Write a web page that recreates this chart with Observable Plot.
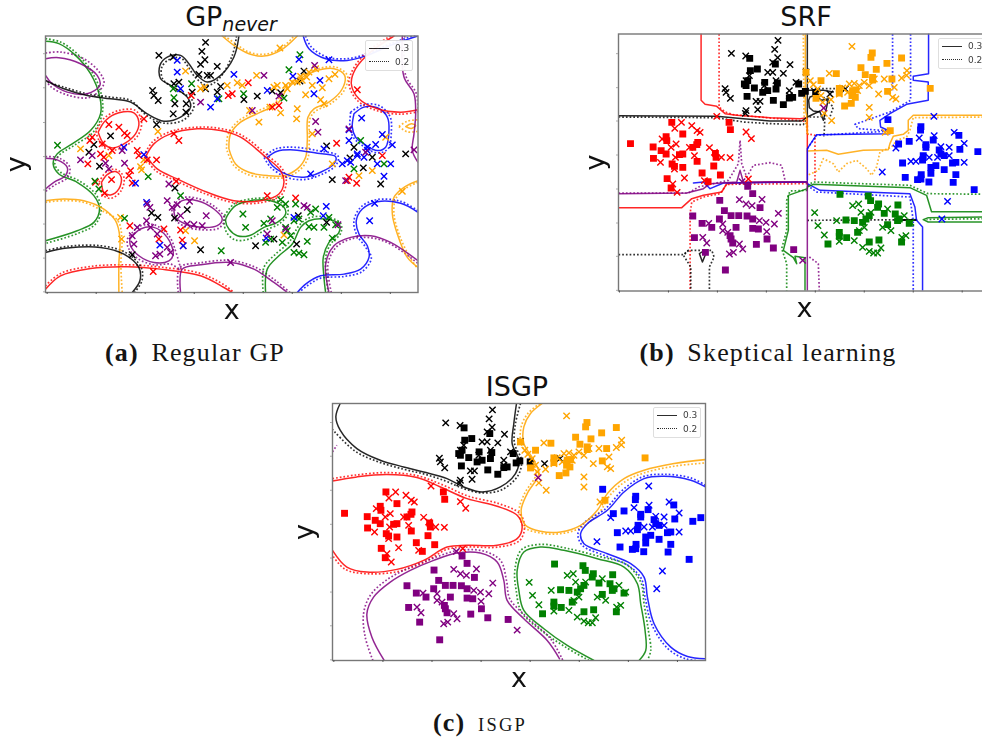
<!DOCTYPE html>
<html><head><meta charset="utf-8">
<script src="https://cdn.jsdelivr.net/npm/d3@7"></script>
<script src="https://cdn.jsdelivr.net/npm/@observablehq/plot@0.6"></script>
<style>
html,body{margin:0;padding:0;background:#fff;overflow:hidden}
#page{position:relative;width:982px;height:740px;overflow:hidden;font-family:"DejaVu Sans",sans-serif;color:#111}
.title{position:absolute;font-size:27px;line-height:32px;transform:translateX(-50%);white-space:nowrap}
.title sub{font-size:19px;font-style:italic;line-height:0;vertical-align:-5px}
.cap{position:absolute;font-family:"Liberation Serif",serif;font-size:26px;line-height:28px;letter-spacing:1.15px;transform:translateX(-50%);white-space:nowrap;color:#151515}
.cap b{margin-right:5px}
.cap .sc{font-size:18.5px;letter-spacing:2.2px}
.legend{position:absolute;width:46px;height:29px;background:#fff;border:1px solid #ddd;border-radius:2px;font-size:9px;color:#333;opacity:.95}
.legend i{position:absolute;left:3px;width:20px;height:0;border-top:1.8px solid #222}
.legend i.d{border-top:1.8px dotted #222}
.legend span{position:absolute;left:29px;line-height:10px}
svg{filter:blur(.3px)}
</style></head><body><div id="page"></div>
<script>
// ---- Shared point cloud (in reference pixels x3) ----
const blackSquares=[[521,173],[598,190],[544,205],[523,210],[505,250],[515,240],[535,262],[513,287],[566,245],[560,275],[575,270],[600,265],[604,247],[592,299],[622,312],[640,292],[650,290],[668,250],[677,278],[688,272],[719,275],[510,255]];
const blackCrosses=[[466,158],[606,119],[596,146],[509,166],[605,171],[590,185],[642,192],[575,215],[590,215],[622,218],[447,264],[450,275],[463,293],[520,225],[510,240],[565,255],[640,270],[660,245],[690,214],[540,302],[552,302],[510,330],[508,338],[545,327],[762,280],[808,265],[600,240],[640,285]];
const orangeSquares=[[690,215],[781,219],[735,240],[889,157],[885,170],[977,172],[933,188],[855,201],[901,206],[868,222],[890,238],[948,235],[790,263],[790,277],[830,270],[840,268],[935,272],[828,285],[838,290],[806,316],[826,308],[720,293],[1063,263],[943,390],[890,230]];
const orangeCrosses=[[828,137],[993,210],[992,224],[977,232],[760,218],[703,240],[712,252],[725,265],[735,285],[740,305],[745,338],[767,360],[880,320],[880,350],[960,295],[950,290],[955,260],[908,280],[880,255],[820,250],[835,248],[850,255],[800,262],[815,275],[765,297],[865,245],[895,235],[925,235],[928,395],[790,280],[845,270]];
const redSquares=[[287,365],[163,429],[320,400],[459,365],[463,387],[231,439],[232,473],[270,408],[272,420],[255,450],[270,460],[365,425],[350,440],[362,432],[310,462],[320,460],[288,490],[295,497],[320,500],[363,482],[378,517],[413,496],[418,458],[420,470],[433,523],[396,543],[273,534],[285,562]];
const redCrosses=[[316,365],[296,383],[347,375],[363,390],[372,395],[422,347],[510,394],[526,414],[258,415],[285,440],[300,430],[340,440],[400,441],[415,455],[436,470],[462,471],[253,485],[298,470],[295,505],[355,465],[385,540],[325,532],[290,550],[303,575],[517,535]];
const blueSquares=[[936,357],[1035,378],[1034,388],[968,430],[1000,422],[1050,432],[1050,440],[1072,418],[1090,448],[1095,460],[1105,465],[1149,404],[1152,446],[1230,442],[1206,453],[1042,465],[1040,478],[980,487],[1065,500],[1080,495],[1065,518],[1105,507],[1140,485],[1130,487],[988,530],[1025,537],[1035,535],[1036,522],[1059,544],[1140,522],[1132,545],[1195,567]];
const blueCrosses=[[1074,347],[1030,412],[1075,405],[1135,395],[1165,428],[1120,440],[960,442],[1095,438],[1020,482],[1005,482],[1085,470],[1120,465],[1165,485],[1060,470],[919,514],[1115,602],[1098,655]];
const greenSquares=[[792,581],[877,586],[884,600],[908,610],[905,620],[966,613],[925,638],[958,640],[810,658],[835,660],[880,645],[870,655],[860,665],[970,655],[965,660],[935,672],[1000,668],[790,695],[790,707],[812,711],[845,695],[880,724],[909,718],[977,724],[756,730]];
const greenCrosses=[[716,636],[726,675],[745,703],[790,722],[782,660],[830,615],[848,610],[855,635],[885,635],[935,625],[985,645],[1005,665],[990,705],[978,710],[835,720],[860,740],[880,752],[893,757],[905,757],[915,742],[920,680],[945,690],[850,690],[865,680]];
const purpleSquares=[[515,557],[530,579],[431,599],[445,630],[430,655],[465,645],[488,645],[513,646],[530,655],[552,621],[350,646],[378,668],[407,680],[355,711],[480,680],[530,683],[547,685],[462,705],[465,715],[470,727],[573,715],[541,731],[592,742],[653,747],[388,755],[448,808]];
const purpleCrosses=[[490,597],[510,610],[528,615],[558,596],[607,638],[498,543],[595,670],[570,665],[550,660],[572,693],[398,668],[440,670],[440,690],[380,710],[392,727],[460,760],[472,755],[490,730],[500,745],[455,695],[680,779],[743,322]];

// ---- GP panel points (noisy labels, crosses only) ----
const gpBlack=[[615,126],[604,153],[475,165],[518,170],[613,178],[600,192],[650,198],[910,212],[595,222],[620,225],[630,225],[535,245],[520,250],[456,270],[460,285],[473,300],[615,265],[660,258],[650,275],[575,275],[770,287],[815,272],[840,277],[730,297],[523,310],[557,310],[518,340],[556,335],[468,372],[330,406],[280,432],[265,455],[297,497],[978,436],[1060,440],[1048,472],[1215,460],[1088,502],[995,537],[1140,550],[523,562],[453,637],[472,650],[560,627],[522,652],[600,747],[765,735],[820,715],[888,730],[893,645],[978,665],[395,762],[898,242],[1115,470]];
const gpOrange=[[838,143],[555,212],[900,228],[985,235],[1003,222],[945,205],[925,215],[918,230],[905,240],[875,245],[855,255],[830,255],[820,260],[860,265],[890,245],[935,255],[965,262],[915,283],[710,247],[725,255],[680,255],[768,225],[747,330],[775,365],[890,325],[888,355],[970,310],[960,298],[840,337],[808,320],[472,393],[240,445],[430,478],[420,498],[423,508],[325,465],[1075,525],[1155,410],[1115,510],[1205,572],[360,650],[363,715],[548,735],[582,720],[555,690],[850,703],[995,490],[935,400],[600,265],[612,260]];
const gpRed=[[430,355],[520,400],[535,420],[325,372],[355,380],[372,398],[380,405],[268,420],[305,430],[275,410],[300,460],[310,470],[335,450],[410,450],[415,465],[440,478],[468,478],[262,490],[333,537],[285,545],[312,578],[390,510],[385,525],[395,547],[527,542],[1008,428],[1070,268],[1045,530],[1040,540],[1068,548],[1145,465],[800,585],[885,592],[388,675],[490,685],[540,688],[545,718],[475,715],[458,812],[743,247],[683,285],[695,280],[815,320],[835,315],[572,285]];
const gpGreen=[[171,434],[898,163],[865,208],[729,280],[655,295],[520,292],[518,265],[573,250],[850,293],[1080,420],[1060,505],[1150,490],[443,528],[283,542],[295,565],[540,585],[372,653],[727,640],[735,680],[662,750],[790,668],[810,655],[830,620],[840,597],[855,610],[885,610],[930,635],[945,625],[985,650],[1005,672],[970,680],[940,680],[925,678],[995,712],[920,722],[810,715],[795,725],[845,725],[880,755],[895,757],[910,762],[870,705],[860,690],[880,660],[895,655],[855,680]];
const gpBlue=[[530,180],[895,177],[985,178],[700,222],[530,215],[540,265],[958,240],[877,227],[800,270],[630,320],[650,295],[940,280],[1083,353],[1045,388],[1045,420],[1145,402],[1175,433],[1125,432],[1100,440],[1070,465],[1050,485],[1025,490],[1090,470],[1130,490],[1170,490],[1100,450],[1150,527],[370,440],[430,462],[405,548],[438,605],[478,733],[548,735],[797,712],[880,650],[977,617],[968,645],[1122,608],[1107,660],[930,520],[970,445],[1070,460],[1040,480]];
const gpPurple=[[790,225],[942,195],[600,305],[755,330],[835,287],[945,363],[952,395],[1045,385],[1095,455],[1240,448],[1035,540],[240,478],[275,465],[315,488],[325,505],[365,450],[372,488],[505,550],[500,600],[530,612],[567,602],[617,645],[515,620],[540,645],[560,670],[580,672],[605,675],[440,610],[448,620],[438,660],[410,680],[395,705],[400,730],[450,680],[470,700],[465,765],[478,760],[500,740],[510,755],[690,785],[815,660],[800,700],[855,685],[910,615],[920,620],[1012,672]];

// ---- GP contours, solid = 0.3, dotted = 0.2 ----
const gpSolid=[
["green",[135,123,175,130,225,165,270,220,298,290,300,340,270,390,215,430,170,460,158,490,175,520,230,545,280,585,297,625,280,665,230,690,135,720]],
["green",[680,645,705,615,750,600,810,600,850,620,855,640,830,665,790,680,745,705,710,705,685,685,675,660,680,645]],
["green",[795,875,800,805,835,765,875,730,900,680,925,660,975,655,1015,670,1015,695,985,725,968,770,970,830,975,875]],
["orange",[665,107,700,135,745,160,790,167,840,150,890,107]],
["orange",[685,445,690,400,720,365,780,335,830,310,860,265,890,240,945,212,1000,205,1032,225,1025,265,985,305,940,325,922,350,920,420,915,470,890,505,850,525,800,525,745,515,705,490,685,445]],
["orange",[135,600,190,595,250,600,310,625,345,660,358,710,355,790,355,875]],
["orange",[1252,540,1210,560,1180,590,1175,640,1190,700,1220,770,1252,800]],
["orange",[1215,378,1232,370,1245,375,1232,384,1215,378]],
["blue",[908,107,925,145,975,175,1040,180,1100,165,1170,135,1252,107]],
["blue",[800,470,830,452,880,448,950,458,1005,468,1000,490,960,515,910,530,860,522,815,495,800,470]],
["blue",[1060,340,1090,320,1130,322,1160,350,1165,390,1155,440,1130,450,1090,430,1065,410,1055,380,1060,340]],
["blue",[1252,635,1200,608,1130,603,1085,625,1067,660,1075,700,1100,735,1105,770,1080,805,1030,820,960,825,915,850,890,875]],
["red",[437,465,460,430,510,400,590,385,660,390,720,410,790,465,840,510,850,545,835,580,780,600,700,600,620,575,530,535,470,505,437,465]],
["red",[293,395,315,360,355,337,400,337,415,365,405,400,370,430,335,442,310,430,293,395]],
["red",[303,545,320,522,345,513,362,530,355,565,330,583,310,575,303,545]],
["red",[1180,107,1110,155,1065,205,1052,250,1075,295,1130,325,1200,335,1252,328]],
["red",[135,865,180,825,270,803,380,798,480,805,600,825,670,860,695,875]],
["purple",[135,175,175,172,240,190,290,225,298,255,260,280,200,275,155,250,135,225]],
["purple",[135,473,170,478,200,500,195,525,160,545,135,565]],
["purple",[520,625,545,600,590,600,640,625,665,655,650,675,600,680,555,670,525,650,520,625]],
["purple",[388,715,420,685,460,680,500,710,518,760,505,780,460,785,415,765,390,735,388,715]],
["purple",[540,875,545,805,600,792,690,785,760,805,820,845,860,875]],
["purple",[985,875,975,790,1000,735,1050,710,1110,705,1170,725,1252,780]],
["purple",[1205,107,1210,230,1240,280,1245,340,1240,400,1235,450,1252,485]],
["black",[715,107,700,170,660,225,620,245,590,225,565,190,540,165,500,170,478,195,480,235,510,255,560,290,570,320,540,350,490,362,440,340,390,305,330,295,260,285,190,265,135,240]],
["black",[135,755,200,742,300,740,370,760,415,800,418,840,395,875]]
];
const gpDotted=[
["green",[135,115,180,125,235,165,280,225,303,285,305,340,278,395,220,435,175,465,163,490,180,515,235,540,285,580,302,625,285,670,235,697,135,728]],
["green",[672,645,700,610,750,595,810,595,858,618,862,640,835,670,790,690,745,715,705,718,678,695,670,660,672,645]],
["green",[788,875,790,800,825,760,865,725,895,675,925,652,975,648,1020,668,1020,698,990,730,975,770,978,830,982,875]],
["orange",[672,107,705,130,745,155,790,162,840,145,880,107]],
["orange",[678,445,683,400,715,360,775,330,825,305,855,260,885,235,945,207,1005,200,1040,225,1032,268,990,310,945,332,928,355,926,420,921,475,895,510,850,531,800,531,742,522,700,495,678,445]],
["orange",[135,605,190,600,250,605,305,630,352,660,364,710,361,790,365,875]],
["orange",[1252,545,1212,565,1185,595,1180,640,1195,700,1225,765,1252,805]],
["orange",[1195,378,1220,362,1252,358]],
["orange",[1195,378,1220,394,1252,392]],
["blue",[915,107,932,140,980,170,1040,175,1100,160,1170,130,1252,102]],
["blue",[790,470,825,445,880,440,950,450,1012,466,1006,494,962,522,910,537,858,530,810,500,790,470]],
["blue",[1050,335,1088,313,1135,315,1168,348,1172,395,1162,445,1130,457,1085,435,1058,410,1048,380,1050,335]],
["blue",[1252,630,1200,602,1128,597,1080,620,1060,660,1068,702,1094,738,1112,772,1085,812,1030,827,960,832,920,855,895,875]],
["red",[430,465,455,425,510,393,590,380,660,384,725,405,795,460,847,508,857,548,840,585,780,606,700,606,618,581,527,541,465,510,430,465]],
["red",[286,395,310,354,355,330,405,330,423,365,412,405,375,436,335,449,305,436,286,395]],
["red",[296,545,315,516,345,506,370,530,362,570,332,593,305,582,296,545]],
["red",[1170,107,1105,150,1058,205,1045,250,1070,300,1130,331,1200,341,1252,334]],
["red",[135,855,180,818,270,797,380,792,480,799,600,818,675,855,700,875]],
["purple",[135,158,180,155,250,175,300,220,310,250,270,290,205,285,150,258,135,235]],
["purple",[135,468,175,472,207,498,202,530,165,552,135,572]],
["purple",[514,625,540,593,590,593,645,620,672,655,655,682,600,687,552,677,519,652,514,625]],
["purple",[380,715,415,678,460,672,505,705,528,760,535,785,540,805,510,790,460,792,410,772,382,738,380,715]],
["purple",[533,875,538,800,600,786,690,779,765,800,826,840,868,875]],
["purple",[992,875,982,790,1006,740,1050,715,1110,711,1170,730,1252,788]],
["purple",[1212,107,1215,225,1247,280,1252,340]],
["black",[708,107,695,165,655,235,620,255,585,232,560,195,540,172,505,178,484,200,486,235,518,262,572,295,580,320,550,358,490,368,440,346,390,300,330,290,260,280,190,260,135,243]],
["black",[135,750,200,737,300,735,375,755,422,800,424,840,402,875]]
];

// ---- SRF contours ----
const srfSolid=[
["red",[393,101,393,300,405,312,440,318,465,340,500,345,600,352,690,355,712,352,712,540]],
["red",[712,545,600,545,505,548,470,550,455,575,400,585,365,595,335,622,145,622]],
["black",[145,346,440,348,520,355,600,362,695,362,712,350,750,332]],
["black",[712,101,712,350]],
["black",[712,270,760,270,790,275]],
["black",[720,290,735,285,755,300,775,295,770,320,760,360,750,335,730,332,718,322,716,300,720,290]],
["black",[975,658,1040,658]],
["black",[975,660,1040,660]],
["black",[388,760,400,752,407,760,397,785,388,760]],
["orange",[706,101,706,330,710,345,712,400]],
["orange",[1262,345,1030,345,1015,360,1015,390,1000,402,970,408,960,430,955,448,880,450,805,462,770,450,712,452]],
["blue",[1076,101,1076,220,1030,228,1030,240,1075,245,1075,300,1010,312,960,340,930,360,932,380,965,395,960,400,740,403,712,445,712,540]],
["blue",[712,550,750,570,1020,580,1035,620,1040,660,1058,680,1058,872]],
["blue",[370,548,400,545,420,565,460,548,712,545]],
["green",[705,872,705,772,675,768,680,790,670,772,640,750,655,690,655,585,712,565,712,560,730,552,1020,562,1070,585,1085,634,1262,634]],
["green",[1262,650,1075,652,1060,658,1075,665,1262,665]],
["purple",[145,580,350,578,400,565,420,550,500,545,510,510,520,545,712,545,712,872]]
];
const srfDotted=[
["red",[447,101,447,320,465,335,490,343,700,362,712,370,712,400,735,405,735,540]],
["red",[712,550,470,552,450,580,400,590,365,605,360,640,360,872]],
["black",[145,350,440,352,520,365,600,370,700,373,712,350,750,350,765,345,762,410]],
["black",[712,265,800,265,810,280]],
["black",[712,660,1040,658]],
["black",[145,763,340,763,355,750,425,750,432,770,418,800,418,872]],
["black",[355,750,340,765,362,800,362,872]],
["black",[760,290,790,320,780,350]],
["orange",[700,101,702,345,715,405]],
["orange",[1262,350,1030,352,1020,390,1010,410,980,420,965,440,930,455,920,500,905,525,890,505,860,480,830,490,805,515,790,490,760,475,745,510,712,525]],
["blue",[968,101,968,270]],
["blue",[1022,101,1022,300,960,335,855,372,865,385,965,392,740,405,712,445]],
["blue",[712,555,740,575,1020,590,1030,660,1030,872]],
["green",[712,570,660,572,650,600,650,690,635,745,650,790,650,872]],
["green",[712,555,730,545,1020,555,1075,580,1262,582]],
["green",[1262,655,1070,657]],
["purple",[145,578,355,578,385,560,475,540,505,490,510,420,515,490,530,530,550,495,600,487,635,495,645,540]],
["purple",[718,770,745,790,748,872]]
];

// ---- ISGP contours ----
const isgpSolid=[
["black",[678,100,670,160,665,220,685,270,675,310,630,350,575,365,520,350,470,325,400,305,340,290,270,270,200,235,150,180,137,140,150,100]],
["orange",[755,100,720,130,700,170,700,220,730,270,745,310,710,370,692,420,705,465,750,483,810,485,870,465,920,420,950,370,1000,325,1060,300,1150,280,1244,268]],
["red",[127,332,200,320,290,313,380,322,450,350,530,385,620,408,680,435,695,470,680,505,620,525,530,525,470,530,400,570,320,597,230,605,170,590,127,540]],
["blue",[1244,350,1200,330,1120,318,1060,325,1000,365,950,420,890,460,870,490,880,520,950,550,1020,580,1060,620,1070,680,1090,760,1140,830,1190,858,1244,865]],
["green",[910,870,830,825,760,775,700,720,685,660,680,600,700,545,750,530,820,540,920,565,1000,590,1040,640,1050,700,1063,780,1065,840,1045,870]],
["purple",[282,870,245,800,230,730,250,680,300,635,360,600,430,570,500,548,570,548,620,575,640,630,650,690,700,745,770,810,807,865]]
];
const isgpDotted=[
["black",[690,100,675,160,672,220,693,270,683,315,635,358,575,368,520,355,465,332,400,311,340,297,265,275,195,243,127,178]],
["orange",[748,100,712,130,692,170,692,220,722,270,737,310,702,370,686,420,700,470,750,488,810,490,875,470,927,425,958,375,1005,333,1060,308,1150,288,1244,278]],
["red",[127,325,200,314,290,307,380,316,455,343,535,378,625,400,688,430,702,470,688,510,625,530,530,530,470,537,400,577,320,604,230,610,165,597,127,555]],
["blue",[1244,345,1200,323,1120,312,1055,320,995,360,945,415,880,458,862,490,875,525,945,557,1015,587,1052,625,1063,680,1083,762,1132,835,1185,865,1244,872]],
["green",[895,870,825,830,755,782,693,725,677,660,673,600,693,538,750,522,825,533,925,558,1008,583,1050,635,1060,700,1073,780,1080,840,1070,870]],
["purple",[248,870,225,800,220,730,240,675,290,628,355,593,430,563,500,541,575,541,630,570,648,630,658,685,707,738,780,805,817,870]],
["purple",[127,245,140,225]]
];

// ---- Ticks (unlabelled in the reference) ----
const gpXTicks=[140,287,434,581,728,875,1022,1169], gpYTicks=[160,262,366,468,568,670,772,873];
const srfXTicks=[148,295,442,589,736,883,1030,1177], srfYTicks=[160,262,362,464,566,668,768,870];
const isgpXTicks=[131,278,425,572,719,866,1013,1160], isgpYTicks=[157,258,360,462,563,665,766,868];

const pairs=f=>d3.range(0,f.length,2).map(i=>[f[i],f[i+1]]);
const X=d=>d[0], Y=d=>d[1];

function panel({domX,domY,xT,yT,solid,dotted,curve,dots,box,labelY,labelX}){
  const marks=[];
  for(const [c,f] of dotted) marks.push(Plot.line(pairs(f),{x:X,y:Y,stroke:c,strokeWidth:1.7,strokeDasharray:"1.7 2",strokeOpacity:.8,strokeLinecap:"butt",curve,clip:true}));
  for(const [c,f] of solid) marks.push(Plot.line(pairs(f),{x:X,y:Y,stroke:c,strokeWidth:1.5,strokeOpacity:.85,curve,clip:true}));
  for(const [c,sq,cr,sx,sy] of dots){
    if(sq) marks.push(Plot.dot(sq,{x:d=>d[0]+sx,y:d=>d[1]+sy,symbol:"square",r:3.9,fill:c,clip:true}));
    if(cr) marks.push(Plot.dot(cr,{x:d=>d[0]+sx,y:d=>d[1]+sy,symbol:"times",r:3,stroke:c,strokeWidth:1.4,clip:true}));
  }
  marks.push(Plot.frame({stroke:"#777",strokeWidth:1.4}));
  marks.push(Plot.axisX(xT,{anchor:"bottom",tickFormat:()=>"",tickSize:2,stroke:"#555",label:"x",labelAnchor:"center",labelArrow:"none",labelOffset:labelX,fontSize:27,color:"#111"}));
  marks.push(Plot.axisY(yT,{anchor:"left",tickFormat:()=>"",tickSize:2,stroke:"#aaa",label:"y",labelAnchor:"center",labelArrow:"none",labelOffset:labelY,fontSize:27,color:"#111"}));
  const svg=Plot.plot({width:box.w,height:box.h,marginLeft:box.ml,marginRight:box.mr,marginTop:box.mt,marginBottom:box.mb,
    x:{domain:domX,label:null},y:{domain:domY,reverse:true,label:null},
    style:{position:"absolute",left:box.l+"px",top:box.t+"px",background:"transparent",fontFamily:"'DejaVu Sans',sans-serif",overflow:"visible"},marks});
  document.getElementById("page").appendChild(svg);
}
const cloud=(sx,sy)=>[
 ["black",blackSquares,blackCrosses,sx,sy],["orange",orangeSquares,orangeCrosses,sx,sy],["red",redSquares,redCrosses,sx,sy],
 ["blue",blueSquares,blueCrosses,sx,sy],["green",greenSquares,greenCrosses,sx,sy],["purple",purpleSquares,purpleCrosses,sx,sy]];

panel({domX:[135,1252],domY:[107,875],xT:gpXTicks,yT:gpYTicks,solid:gpSolid,dotted:gpDotted,curve:"catmull-rom",labelX:26,labelY:40,
 dots:[["black",null,gpBlack,0,0],["orange",null,gpOrange,0,0],["red",null,gpRed,0,0],["green",null,gpGreen,0,0],["blue",null,gpBlue,0,0],["purple",null,gpPurple,0,0]],
 box:{l:0,t:0,w:430,h:325,ml:45,mr:12.5,mt:35.5,mb:33}});
panel({domX:[145,1262],domY:[101,872],xT:srfXTicks,yT:srfYTicks,solid:srfSolid,dotted:srfDotted,curve:"linear",labelX:26,labelY:34,
 dots:cloud(18,1),box:{l:570,t:0,w:430,h:325,ml:48,mr:10,mt:33.5,mb:34.5}});
panel({domX:[127,1244],domY:[100,870],xT:isgpXTicks,yT:isgpYTicks,solid:isgpSolid,dotted:isgpDotted,curve:"catmull-rom",labelX:26,labelY:39,
 dots:cloud(0,0),box:{l:290,t:370,w:430,h:325,ml:42,mr:15,mt:33,mb:35}});

// ---- Titles, captions, legends ----
const page=document.getElementById("page");
function add(cls,html,style){const e=document.createElement("div");e.className=cls;e.innerHTML=html;Object.assign(e.style,style);page.appendChild(e);}
add("title","GP<sub>never</sub>",{left:"231px",top:"1px"});
add("title","SRF",{left:"806px",top:"1px"});
add("title","ISGP",{left:"517px",top:"371px"});
add("cap","<b>(a)</b> Regular GP",{left:"195px",top:"339px"});
add("cap","<b>(b)</b> Skeptical learning",{left:"768px",top:"339px"});
add("cap",'<b>(c)</b> <span class="sc">ISGP</span>',{left:"480px",top:"709px"});
const legendRows=["0.3","0.2"];
for(const [l,t] of [[365,40],[938,38],[653,407]]){
  add("legend",`<i style="top:7px"></i><span style="top:2px">${legendRows[0]}</span><i class="d" style="top:20px"></i><span style="top:16px">${legendRows[1]}</span>`,{left:l+"px",top:t+"px"});
}
</script></body></html>
